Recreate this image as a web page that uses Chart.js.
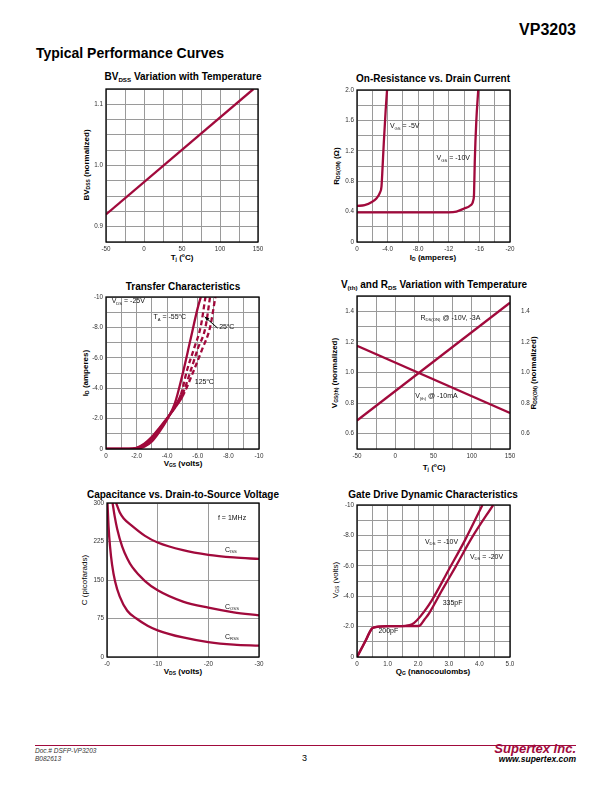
<!DOCTYPE html>
<html>
<head>
<meta charset="utf-8">
<script src="https://cdn.jsdelivr.net/npm/chart.js@4.4.1/dist/chart.umd.min.js"></script>
<style>
  body { margin: 0; background: #fff; font-family: "Liberation Sans", Arial, sans-serif; color: #000; }
  #page { position: relative; width: 612px; height: 792px; overflow: hidden; }
  .abs { position: absolute; white-space: nowrap; }
  .ttl { font-weight: bold; font-size: 10px; transform: translate(-50%, -50%); }
  .ax { font-weight: bold; font-size: 8px; transform: translate(-50%, -50%); }
  .plain { font-weight: normal; }
  .rot { transform: translate(-50%, -50%) rotate(-90deg); }
  sub { font-size: 62%; vertical-align: -0.35em; line-height: 0; }
  sup { font-size: 62%; vertical-align: 0.55em; line-height: 0; }
  canvas { position: absolute; }
</style>
</head>
<body>
<div id="page">
  <div class="abs" style="right:36px; top:21px; font-size:16px; font-weight:bold;">VP3203</div>
  <div class="abs" style="left:36px; top:45px; font-size:14px; font-weight:bold;">Typical Performance Curves</div>

  <div class="abs ttl" style="left:183px; top:76px;">BV<sub>DSS</sub> Variation with Temperature</div>
  <div class="abs ax" style="left:182px; top:257px;">T<sub>j</sub> (<sup>o</sup>C)</div>
  <div class="abs ax rot" style="left:86px; top:165px;">BV<sub>DSS</sub> (normalized)</div>

  <div class="abs ttl" style="left:433px; top:78px;">On-Resistance vs. Drain Current</div>
  <div class="abs ax" style="left:433px; top:257px;">I<sub>D</sub> (amperes)</div>
  <div class="abs ax rot" style="left:336px; top:166px;">R<sub>DS(ON)</sub> (Ω)</div>

  <div class="abs ttl" style="left:183px; top:286px;">Transfer Characteristics</div>
  <div class="abs ax" style="left:183px; top:463px;">V<sub>GS</sub> (volts)</div>
  <div class="abs ax rot" style="left:85px; top:373px;">I<sub>D</sub> (amperes)</div>

  <div class="abs ttl" style="left:434px; top:284px;">V<sub>(th)</sub> and R<sub>DS</sub> Variation with Temperature</div>
  <div class="abs ax" style="left:434px; top:467px;">T<sub>j</sub> (<sup>o</sup>C)</div>
  <div class="abs ax rot" style="left:334px; top:373px;">V<sub>GS(th)</sub> (normalized)</div>
  <div class="abs ax rot" style="left:533px; top:373px;">R<sub>DS(ON)</sub> (normalized)</div>

  <div class="abs ttl" style="left:183px; top:494px;">Capacitance vs. Drain-to-Source Voltage</div>
  <div class="abs ax" style="left:183px; top:671px;">V<sub>DS</sub> (volts)</div>
  <div class="abs ax rot plain" style="left:84px; top:580px;">C (picofarads)</div>

  <div class="abs ttl" style="left:433px; top:494px;">Gate Drive Dynamic Characteristics</div>
  <div class="abs ax" style="left:433px; top:671px;">Q<sub>G</sub> (nanocoulombs)</div>
  <div class="abs ax rot plain" style="left:335px; top:580px;">V<sub>GS</sub> (volts)</div>

  <div class="abs" style="left:35px; top:745px; width:541px; height:1px; background:#A10A3C;"></div>
  <div class="abs" style="left:35px; top:747px; font-size:6.5px; font-style:italic; color:#333; line-height:8px;">Doc.# DSFP-VP3203<br>B082613</div>
  <div class="abs" style="left:302px; top:753px; font-size:9px;">3</div>
  <div class="abs" style="right:36px; top:741px; font-size:13px; font-weight:bold; font-style:italic; color:#A10A3C;">Supertex inc.</div>
  <div class="abs" style="right:36px; top:754px; font-size:8.5px; font-weight:bold; font-style:italic;">www.supertex.com</div>
</div>

<script>
// BVdss vs temperature
const bvTemp = [-50, 144];
const bvNorm = [0.920, 1.125];

// on-resistance vs drain current (VGS = -5V, -10V)
const idVgs5 = [0, -1, -2, -2.5, -3, -3.2, -3.3, -3.5, -3.75, -3.93];
const rdsVgs5 = [0.475, 0.485, 0.53, 0.57, 0.65, 0.73, 0.9, 1.3, 1.74, 2.0];
const idVgs10 = [0, -6, -12, -13, -14, -14.8, -15.2, -15.3, -15.4, -15.6, -15.85];
const rdsVgs10 = [0.39, 0.39, 0.39, 0.40, 0.44, 0.48, 0.55, 0.64, 1.08, 1.6, 2.0];

// transfer characteristics, VDS = -25V
const vgsM55 = [0, -1.5, -2.0, -2.5, -3.0, -3.5, -4.0, -4.5, -5.0, -5.5, -6.0, -6.2];
const idM55 = [0, 0, -0.02, -0.15, -0.5, -1.15, -1.95, -3.0, -4.9, -7.1, -9.3, -10];
const vgs25 = [0, -1.5, -2.0, -2.5, -3.0, -3.5, -4.0, -4.5, -4.9, -5.3, -5.75, -6.2, -6.5];
const id25 = [0, 0, -0.05, -0.25, -0.65, -1.3, -2.0, -2.8, -3.6, -5.2, -6.6, -8.1, -10];
const vgsMid = [0, -1.5, -2.0, -2.5, -3.0, -3.5, -4.0, -4.5, -5.0, -5.55, -6.0, -6.5, -6.8];
const idMid = [0, 0, -0.06, -0.3, -0.72, -1.35, -2.0, -2.75, -3.6, -5.2, -6.6, -8.0, -10];
const vgs125 = [0, -1.5, -2.0, -2.5, -3.0, -3.5, -4.0, -4.5, -5.0, -5.75, -6.3, -6.8, -7.15];
const id125 = [0, 0, -0.08, -0.35, -0.8, -1.4, -2.05, -2.7, -3.45, -5.2, -6.6, -8.0, -10];

// Vth and Rds(on) vs temperature
const tjLine = [-50, 150];
const rdsNorm = [0.686, 1.456];
const vthNorm = [1.175, 0.736];

// capacitance vs VDS
const vdsCiss = [-1.8, -2.5, -3.3, -5, -7.5, -10, -15, -20, -25, -30];
const ciss = [300, 282, 270, 255, 236, 223, 208, 199, 194, 191];
const vdsCoss = [-1.1, -1.5, -2, -3, -4, -5, -7.5, -10, -15, -20, -25, -30];
const coss = [300, 275, 250, 215, 192, 175, 148, 130, 108, 96, 87, 81];
const vdsCrss = [-0.1, -0.3, -0.6, -1, -1.6, -2.5, -4, -5.8, -8, -10, -15, -20, -25, -30];
const crss = [300, 255, 215, 180, 147, 118, 90, 75, 61, 52, 38, 29, 24, 22];

// gate charge
const qgVds10 = [0, 0.25, 0.49, 0.6, 0.71, 1.0, 1.3, 1.58, 1.8, 1.96, 2.2, 2.45, 2.99, 3.53, 4.1];
const vgsVds10 = [0, -0.95, -1.87, -1.96, -2.0, -2.03, -2.03, -2.05, -2.15, -2.42, -3.0, -3.74, -5.71, -7.69, -10];
const qgVds20 = [0, 0.25, 0.49, 0.6, 0.71, 1.0, 1.5, 2.0, 2.07, 2.2, 2.35, 2.78, 3.22, 3.77, 4.45];
const vgsVds20 = [0, -0.95, -1.87, -1.96, -2.0, -2.03, -2.03, -2.04, -2.1, -2.45, -2.86, -4.4, -5.93, -7.9, -10];

const RED = '#A10A3C';
const GRID = '#9a9a9a';
const page = document.getElementById('page');

function drawRich(ctx, text, x, y, size) {
  const re = /_\{([^}]*)\}|\^\{([^}]*)\}|[^_^]+/g;
  let m, cx = x;
  while ((m = re.exec(text))) {
    let s = m[0], sz = size, dy = 0;
    if (m[1] !== undefined) { s = m[1]; sz = size * 0.6; dy = size * 0.3; }
    else if (m[2] !== undefined) { s = m[2]; sz = size * 0.6; dy = -size * 0.35; }
    ctx.font = sz + 'px "Liberation Sans", Arial, sans-serif';
    ctx.fillText(s, cx, y + dy);
    cx += ctx.measureText(s).width;
  }
}

// frame round the plot + text labels and arrows in data coordinates
Chart.register({
  id: 'decor',
  afterDatasetsDraw(chart, args, opts) {
    const { ctx, chartArea: a, scales } = chart;
    ctx.save();
    ctx.strokeStyle = '#000';
    ctx.lineWidth = 1.3;
    ctx.strokeRect(a.left, a.top, a.right - a.left, a.bottom - a.top);
    ctx.fillStyle = '#111';
    ctx.textBaseline = 'middle';
    ctx.textAlign = 'left';
    (opts.notes || []).forEach(n => {
      drawRich(ctx, n.t, scales.x.getPixelForValue(n.x), scales.y.getPixelForValue(n.y), 7);
    });
    (opts.arrows || []).forEach(r => {
      const x1 = scales.x.getPixelForValue(r.x1), y1 = scales.y.getPixelForValue(r.y1);
      const x2 = scales.x.getPixelForValue(r.x2), y2 = scales.y.getPixelForValue(r.y2);
      const ang = Math.atan2(y2 - y1, x2 - x1);
      ctx.strokeStyle = '#000';
      ctx.lineWidth = 1;
      ctx.beginPath(); ctx.moveTo(x1, y1); ctx.lineTo(x2, y2); ctx.stroke();
      ctx.beginPath();
      ctx.moveTo(x2, y2);
      ctx.lineTo(x2 - 5 * Math.cos(ang - 0.4), y2 - 5 * Math.sin(ang - 0.4));
      ctx.lineTo(x2 - 5 * Math.cos(ang + 0.4), y2 - 5 * Math.sin(ang + 0.4));
      ctx.closePath(); ctx.fillStyle = '#000'; ctx.fill();
    });
    ctx.restore();
  }
});

function curve(xs, ys, dashFrom) {
  const ds = {
    data: xs.map((x, i) => ({ x: x, y: ys[i] })),
    borderColor: RED,
    borderWidth: 2.3,
    pointRadius: 0,
    fill: false,
    cubicInterpolationMode: 'monotone'
  };
  if (dashFrom !== undefined) {
    ds.segment = { borderDash: c => (c.p0.parsed.y < dashFrom ? [5, 3] : undefined) };
  }
  return ds;
}

function axis(min, max, step, fmt, extra) {
  return Object.assign({
    type: 'linear',
    min: min,
    max: max,
    grid: { color: GRID, lineWidth: 1, drawTicks: false },
    border: { display: false },
    ticks: {
      stepSize: step,
      autoSkip: false,
      maxRotation: 0,
      minRotation: 0,
      padding: 3,
      color: '#333',
      font: { size: 6.3, family: '"Liberation Sans", Arial, sans-serif' },
      callback: fmt
    },
    afterFit: s => { if (s.isHorizontal()) s.height = 16; else s.width = 30; }
  }, extra || {});
}

const near = (v, k) => Math.abs(v / k - Math.round(v / k)) < 1e-6;

function buildChart(plot, datasets, scales, notes, arrows, rightAxis) {
  const R = rightAxis ? 30 : 12;
  const w = plot.w + 30 + R, h = plot.h + 8 + 16;
  const cv = document.createElement('canvas');
  cv.width = w; cv.height = h;
  cv.style.left = (plot.x - 30) + 'px';
  cv.style.top = (plot.y - 8) + 'px';
  cv.style.width = w + 'px';
  cv.style.height = h + 'px';
  page.appendChild(cv);
  new Chart(cv, {
    type: 'line',
    data: { datasets: datasets },
    options: {
      responsive: false,
      animation: false,
      events: [],
      layout: { padding: { top: 8, right: rightAxis ? 0 : R, left: 0, bottom: 0 } },
      scales: scales,
      plugins: {
        legend: { display: false },
        tooltip: { enabled: false },
        decor: { notes: notes || [], arrows: arrows || [] }
      }
    }
  });
}

const fmtTemp = v => (near(v, 50) ? String(Math.round(v)) : '');
const fmtNeg10 = v => {
  if (!near(v, 2)) return '';
  const r = Math.round(v);
  return r === 0 ? '0' : (r === -10 ? '-10' : r.toFixed(1));
};

// 1. BVdss
buildChart({ x: 106, y: 89, w: 152, h: 153 },
  [curve(bvTemp, bvNorm)],
  {
    x: axis(-50, 150, 25, fmtTemp),
    y: axis(0.875, 1.125, 0.025, v => (near(v, 0.1) ? v.toFixed(1) : ''))
  });

// 2. On-resistance
buildChart({ x: 357, y: 90, w: 153, h: 152 },
  [curve(idVgs5, rdsVgs5), curve(idVgs10, rdsVgs10)],
  {
    x: axis(-20, 0, 2, v => {
      if (!near(v, 4)) return '';
      const r = Math.round(v);
      return r === 0 ? '0' : (r > -10 ? r.toFixed(1) : String(r));
    }, { reverse: true }),
    y: axis(0, 2, 0.2, v => (near(v, 0.4) ? (Math.abs(v) < 1e-6 ? '0' : v.toFixed(1)) : ''))
  },
  [{ x: -4.3, y: 1.52, t: 'V_{GS} = -5V' }, { x: -10.4, y: 1.1, t: 'V_{GS} = -10V' }]);

// 3. Transfer characteristics
buildChart({ x: 106, y: 297, w: 153, h: 152 },
  [curve(vgsM55, idM55), curve(vgs25, id25, -3.3), curve(vgsMid, idMid, -3.3), curve(vgs125, id125, -3.3)],
  {
    x: axis(-10, 0, 1, fmtNeg10, { reverse: true }),
    y: axis(-10, 0, 1, fmtNeg10, { reverse: true })
  },
  [
    { x: -0.37, y: -9.7, t: 'V_{DS} = -25V' },
    { x: -3.1, y: -8.65, t: 'T_{A} = -55^{o}C' },
    { x: -7.4, y: -8.0, t: '25^{o}C' },
    { x: -5.8, y: -4.4, t: '125^{o}C' }
  ],
  [{ x1: -7.3, y1: -7.95, x2: -6.45, y2: -8.7 }]);

// 4. Vth and Rds vs temperature
const fmtNorm = v => {
  const r = Math.round(v * 10);
  return (near(v, 0.1) && r % 2 === 0) ? v.toFixed(1) : '';
};
buildChart({ x: 357, y: 296, w: 153, h: 153 },
  [Object.assign(curve(tjLine, vthNorm), { yAxisID: 'y' }), Object.assign(curve(tjLine, rdsNorm), { yAxisID: 'y2' })],
  {
    x: axis(-50, 150, 25, fmtTemp),
    y: axis(0.5, 1.5, 0.1, fmtNorm),
    y2: axis(0.5, 1.5, 0.1, fmtNorm, { position: 'right', grid: { display: false } })
  },
  [{ x: 33, y: 1.355, t: 'R_{DS(ON)} @ -10V, -3A' }, { x: 26, y: 0.843, t: 'V_{(th)} @ -10mA' }],
  null, true);

// 5. Capacitance
buildChart({ x: 107, y: 503, w: 152, h: 154 },
  [curve(vdsCiss, ciss), curve(vdsCoss, coss), curve(vdsCrss, crss)],
  {
    x: axis(-30, 0, 10, v => (Math.round(v) === 0 ? '-0' : String(Math.round(v))), { reverse: true }),
    y: axis(0, 300, 75, v => String(Math.round(v)))
  },
  [
    { x: -21.9, y: 271, t: 'f = 1MHz' },
    { x: -23.3, y: 209, t: 'C_{ISS}' },
    { x: -23.3, y: 98, t: 'C_{OSS}' },
    { x: -23.3, y: 39, t: 'C_{RSS}' }
  ]);

// 6. Gate charge
buildChart({ x: 357, y: 505, w: 153, h: 152 },
  [curve(qgVds10, vgsVds10), curve(qgVds20, vgsVds20)],
  {
    x: axis(0, 5, 0.5, v => (near(v, 1) ? (Math.round(v) === 0 ? '0' : v.toFixed(1)) : '')),
    y: axis(-10, 0, 1, fmtNeg10, { reverse: true })
  },
  [
    { x: 2.22, y: -7.57, t: 'V_{DS} = -10V' },
    { x: 3.69, y: -6.58, t: 'V_{DS} = -20V' },
    { x: 2.8, y: -3.53, t: '335pF' },
    { x: 0.7, y: -1.73, t: '200pF' }
  ]);
</script>
</body>
</html>
